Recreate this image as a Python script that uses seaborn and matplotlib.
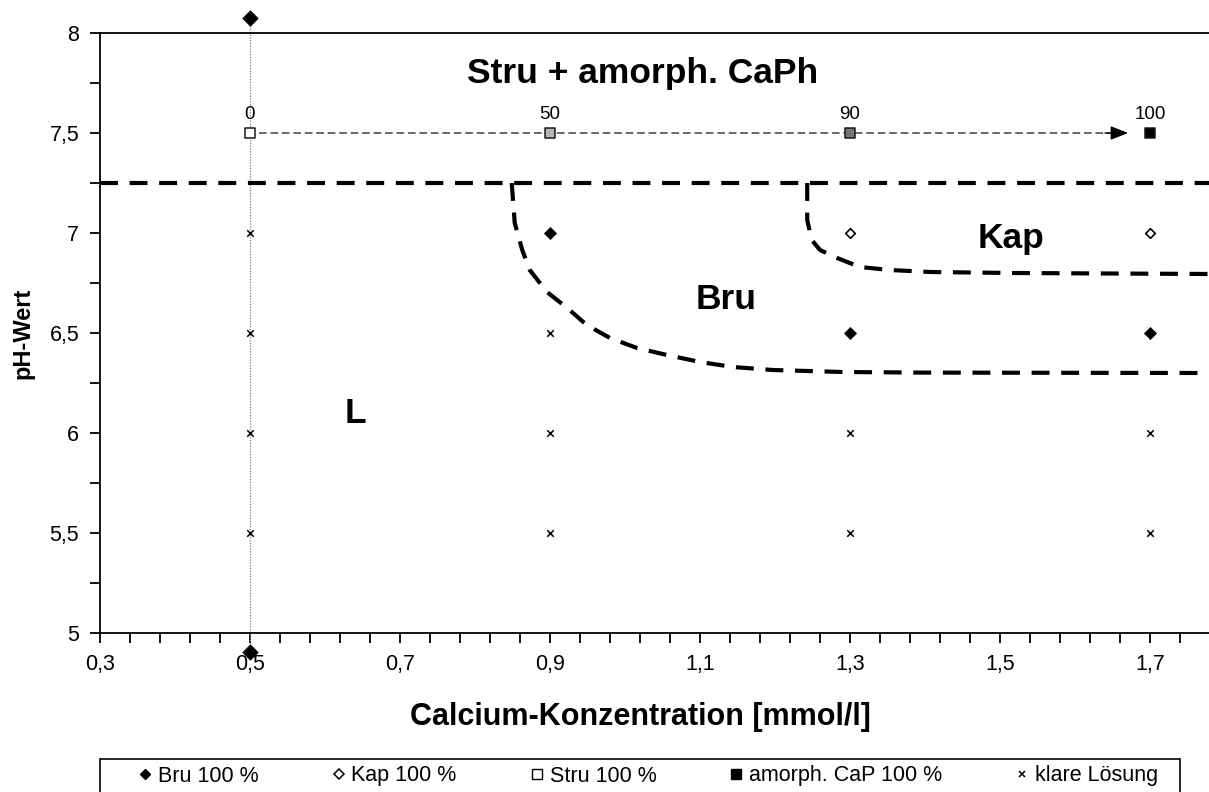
import numpy as np
import pandas as pd
import matplotlib
matplotlib.use("Agg")
import matplotlib.pyplot as plt
from matplotlib.lines import Line2D
from matplotlib.patches import Rectangle
from matplotlib.ticker import FixedLocator, FuncFormatter
import seaborn as sns

# ---- data ---------------------------------------------------------------
# Calcium concentration [mmol/l] and pH of the precipitation experiments
bru_x = [0.9, 1.3, 1.7]
bru_y = [7.0, 6.5, 6.5]

kap_x = [1.3, 1.7]
kap_y = [7.0, 7.0]

clear_x = [0.5, 0.5, 0.5, 0.5, 0.9, 0.9, 0.9, 1.3, 1.3, 1.7, 1.7]
clear_y = [5.5, 6.0, 6.5, 7.0, 5.5, 6.0, 6.5, 5.5, 6.0, 5.5, 6.0]

# pH 7.5 series: share of amorphous calcium phosphate [%]
stru_x = [0.5, 0.9, 1.3, 1.7]
stru_y = [7.5, 7.5, 7.5, 7.5]
acp_share = [0, 50, 90, 100]

# reference line at 0.5 mmol/l with its end markers
ref_x = [0.5, 0.5]
ref_y = [4.905, 8.075]

# phase boundaries
upper_bound_x = [0.3, 1.7787]
upper_bound_y = [7.25, 7.25]

bru_bound_x = [0.849, 0.853, 0.863, 0.873, 0.896, 0.923, 0.949, 0.980, 1.016,
               1.056, 1.100, 1.144, 1.197, 1.290, 1.400, 1.7787]
bru_bound_y = [7.25, 7.05, 6.915, 6.815, 6.705, 6.625, 6.54, 6.475, 6.425,
               6.39, 6.355, 6.33, 6.315, 6.305, 6.302, 6.30]

kap_bound_x = [1.243, 1.243, 1.249, 1.260, 1.283, 1.313, 1.353, 1.407, 1.517, 1.7787]
kap_bound_y = [7.25, 7.065, 6.965, 6.915, 6.875, 6.83, 6.815, 6.805, 6.80, 6.795]

x_ticks = [0.3, 0.5, 0.7, 0.9, 1.1, 1.3, 1.5, 1.7]
y_ticks = [5.0, 5.5, 6.0, 6.5, 7.0, 7.5, 8.0]

region_labels = ["Stru + amorph. CaPh", "Bru", "Kap", "L"]
region_pos = [(1.024, 7.80), (1.135, 6.67), (1.515, 6.975), (0.64, 6.10)]

legend_labels = ["Bru 100 %", "Kap 100 %", "Stru 100 %", "amorph. CaP 100 %", "klare Lösung"]

# ---- style --------------------------------------------------------------
sns.set_theme(style="white")
plt.rcParams["font.family"] = ["Liberation Sans", "DejaVu Sans"]
plt.rcParams.update({"axes.edgecolor": "black", "text.color": "black",
                     "axes.labelcolor": "black", "xtick.color": "black",
                     "ytick.color": "black"})

W, H = 1209, 792
fig = plt.figure(figsize=(W / 100, H / 100), dpi=100)
ax = fig.add_axes([100 / W, 159 / H, 1109 / W, 600 / H])
ax.set_xlim(0.3, 1.7787)
ax.set_ylim(5, 8)

for side in ["left", "bottom", "top"]:
    ax.spines[side].set_linewidth(1.3)
    ax.spines[side].set_color("black")
ax.spines["right"].set_visible(False)

ax.xaxis.set_major_locator(FixedLocator(x_ticks))
ax.xaxis.set_minor_locator(FixedLocator(np.arange(0.3, 1.78, 0.04)))
ax.yaxis.set_major_locator(FixedLocator(y_ticks))
ax.yaxis.set_minor_locator(FixedLocator(np.arange(5.0, 8.01, 0.25)))
comma = FuncFormatter(lambda v, p: f"{v:g}".replace(".", ","))
ax.xaxis.set_major_formatter(comma)
ax.yaxis.set_major_formatter(comma)
ax.tick_params(which="both", direction="out", length=7, width=1.3, color="black",
               bottom=True, left=True, top=False, right=False)
ax.tick_params(which="major", labelsize=15.5, pad=8, labelcolor="black")

ax.set_xlabel("Calcium-Konzentration [mmol/l]", fontsize=22, fontweight="bold",
              va="center", color="black")
ax.xaxis.set_label_coords((640 - 100) / 1109, -(717 - 633) / 600)
ax.set_ylabel("pH-Wert", fontsize=17, fontweight="bold", labelpad=11, color="black")

# reference line
ax.plot(ref_x, ref_y, color="#909090", lw=1.0, ls=(0, (1, 1)), clip_on=False, zorder=2)
sns.scatterplot(x=ref_x, y=ref_y, marker="D", s=62, color="black", edgecolor="black",
                linewidth=0.5, ax=ax, clip_on=False, zorder=5, legend=False)

# phase boundaries
dash = (0, (4.3, 2.8))
n_before = len(ax.lines)
for bx, by in [(upper_bound_x, upper_bound_y), (bru_bound_x, bru_bound_y),
               (kap_bound_x, kap_bound_y)]:
    sns.lineplot(x=bx, y=by, sort=False, estimator=None, color="black", lw=3.0,
                 ax=ax, zorder=3)
for line in ax.lines[n_before:]:
    line.set_linestyle(dash)
    line.set_dash_capstyle("butt")

# measurement points
sns.scatterplot(x=bru_x, y=bru_y, marker="D", s=38, color="black", edgecolor="black",
                linewidth=0.5, ax=ax, zorder=5, legend=False)
sns.scatterplot(x=kap_x, y=kap_y, marker="D", s=24, color="white", edgecolor="black",
                linewidth=1.2, ax=ax, zorder=5, legend=False)
sns.scatterplot(x=clear_x, y=clear_y, marker="x", s=22, color="black",
                linewidth=1.1, ax=ax, zorder=5, legend=False)

# pH 7.5 series with growing share of amorphous calcium phosphate
ax.plot([stru_x[0] + 0.012, stru_x[-1] - 0.045], [stru_y[0], stru_y[-1]],
        color="#404040", lw=1.1, ls=(0, (5, 2.5)), zorder=3)
ax.annotate("", xy=(stru_x[-1] - 0.029, stru_y[-1]), xytext=(stru_x[-1] - 0.06, stru_y[-1]),
            arrowprops=dict(arrowstyle="-|>,head_length=0.9,head_width=0.35",
                            color="black", lw=1.0, shrinkA=0, shrinkB=0), zorder=4)
stru_df = pd.DataFrame({"x": stru_x, "y": stru_y, "share": acp_share})
sns.scatterplot(data=stru_df, x="x", y="y", hue="share", marker="s", s=48,
                palette={0: "white", 50: "#b4b4b4", 90: "#767676", 100: "black"},
                edgecolor="#1a1a1a", linewidth=1.1, ax=ax, zorder=5, legend=False)
for xv, yv, share in zip(stru_x, stru_y, acp_share):
    ax.annotate(f"{share}", (xv, yv), xytext=(0, 7.5), textcoords="offset points",
                ha="center", va="bottom", fontsize=13.5, color="black")

# region labels
for text, (tx, ty) in zip(region_labels, region_pos):
    ax.text(tx, ty, text, fontsize=25.5, fontweight="bold", ha="center", va="center",
            color="black")

# legend
handles = [
    Line2D([], [], ls="none", marker="D", ms=5, mfc="black", mec="black"),
    Line2D([], [], ls="none", marker="D", ms=5, mfc="white", mec="black", mew=1.1),
    Line2D([], [], ls="none", marker="s", ms=6.5, mfc="white", mec="black", mew=1.0),
    Line2D([], [], ls="none", marker="s", ms=7, mfc="black", mec="black"),
    Line2D([], [], ls="none", marker="x", ms=5, mec="black", mew=1.1),
]
fs = 15.5
fs_px = fs * 100 / 72
hl = 0.6
leg = fig.legend(handles, legend_labels, loc="center left", ncol=5,
                 bbox_to_anchor=((145 - hl * fs_px / 2) / W, (H - 776) / H),
                 fontsize=fs, frameon=False, handlelength=hl, handletextpad=0.3,
                 columnspacing=(80 - hl * fs_px / 2) / fs_px,
                 borderpad=0, borderaxespad=0)
fig.patches.append(Rectangle((100 / W, -0.05), 1080 / W, 0.05 + (H - 759) / H,
                             transform=fig.transFigure, fill=False,
                             edgecolor="black", linewidth=1.2))

fig.savefig("out.png", dpi=100)
